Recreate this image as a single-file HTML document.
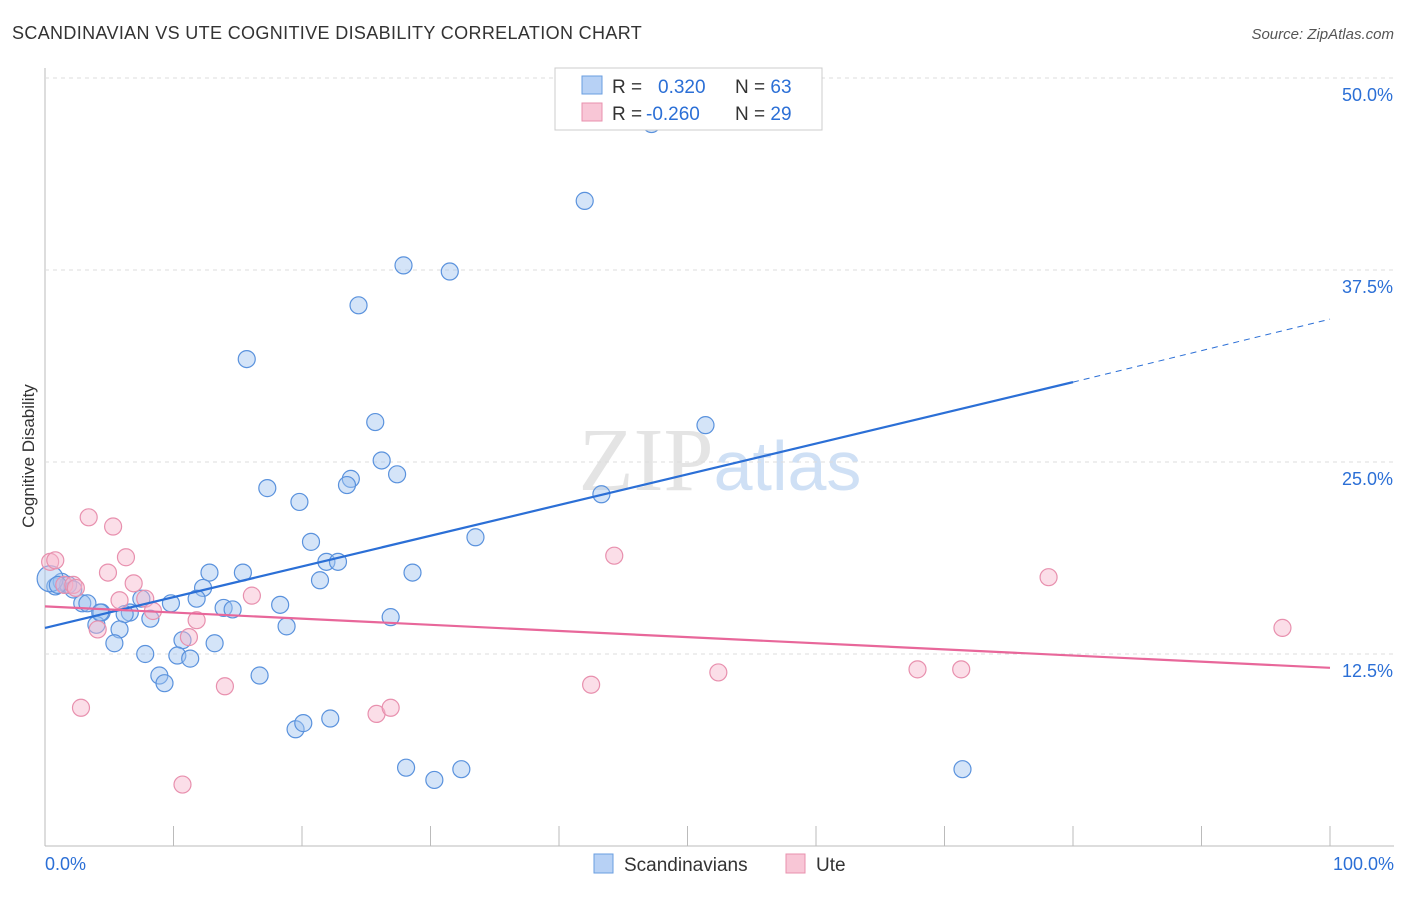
<!DOCTYPE html>
<html><head><meta charset="utf-8"><style>
body{margin:0;background:#fff;font-family:"Liberation Sans",sans-serif}
</style></head><body>
<svg width="1406" height="892" id="c" font-family="Liberation Sans, sans-serif">
<text x="12" y="39" font-size="18" fill="#333" letter-spacing="0.35">SCANDINAVIAN VS UTE COGNITIVE DISABILITY CORRELATION CHART</text>
<text x="1394" y="39" font-size="15" fill="#555" text-anchor="end" font-style="italic">Source: ZipAtlas.com</text>
<text x="720" y="490" font-size="90" fill="#e4e4e4" text-anchor="middle" font-family="Liberation Serif, serif">ZIP<tspan fill="#cfe0f5" font-family="Liberation Sans, sans-serif" font-size="70">atlas</tspan></text>
<text x="34" y="456" font-size="17" fill="#333" text-anchor="middle" transform="rotate(-90 34 456)">Cognitive Disability</text>
<g id="grid"></g><g id="marks"></g>
<g>
<rect x="555" y="68" width="267" height="62" fill="#fff" stroke="#ccc"/>
<rect x="582" y="76" width="20" height="18" fill="#b7d1f5" stroke="#6a9ee0"/>
<rect x="582" y="103" width="20" height="18" fill="#f8c6d6" stroke="#e890ae"/>
<text x="612" y="93" font-size="19" fill="#333">R = <tspan fill="#2b6fd6" x="658">0.320</tspan><tspan x="735">N = </tspan><tspan fill="#2b6fd6">63</tspan></text>
<text x="612" y="120" font-size="19" fill="#333">R = <tspan fill="#2b6fd6" x="646">-0.260</tspan><tspan x="735">N = </tspan><tspan fill="#2b6fd6">29</tspan></text>
</g>
<g>
<rect x="594" y="854" width="19" height="19" fill="#b7d1f5" stroke="#6a9ee0"/>
<text x="624" y="871" font-size="19" fill="#333">Scandinavians</text>
<rect x="786" y="854" width="19" height="19" fill="#f8c6d6" stroke="#e890ae"/>
<text x="816" y="871" font-size="19" fill="#333">Ute</text>
</g>
<text x="45" y="870" font-size="18" fill="#2b6fd6">0.0%</text>
<text x="1394" y="870" font-size="18" fill="#2b6fd6" text-anchor="end">100.0%</text>
</svg>
<script>
const yTicks=[12.5,25,37.5,50];
const blueX=[47.2,42.0,27.9,31.5,24.4,15.7,25.7,51.4,26.2,23.8,23.5,27.4,17.3,19.8,43.3,33.5,20.7,21.9,22.8,15.4,12.8,21.4,28.6,12.3,11.8,7.5,9.8,18.3,13.9,14.6,2.9,3.3,4.4,6.6,6.2,8.2,26.9,18.8,4.0,5.8,10.7,13.2,5.4,7.8,10.3,11.3,8.9,16.7,9.3,19.5,20.1,22.2,28.1,30.3,32.4,71.4,0.8,1.3,1.8,2.2,0.4,4.3,1.0];
const blueY=[47.0,42.0,37.8,37.4,35.2,31.7,27.6,27.4,25.1,23.9,23.5,24.2,23.3,22.4,22.9,20.1,19.8,18.5,18.5,17.8,17.8,17.3,17.8,16.8,16.1,16.1,15.8,15.7,15.5,15.4,15.8,15.8,15.2,15.2,15.1,14.8,14.9,14.3,14.4,14.1,13.4,13.2,13.2,12.5,12.4,12.2,11.1,11.1,10.6,7.6,8.0,8.3,5.1,4.3,5.0,5.0,16.9,17.2,17.0,16.7,17.4,15.2,17.0];
const pinkX=[0.4,0.8,3.4,5.3,6.3,4.9,6.9,7.8,5.8,8.4,1.5,2.2,2.4,16.1,11.8,11.2,4.1,44.3,78.1,96.3,14.0,42.5,52.4,67.9,71.3,25.8,26.9,2.8,10.7];
const pinkY=[18.5,18.6,21.4,20.8,18.8,17.8,17.1,16.1,16.0,15.3,17.0,17.0,16.8,16.3,14.7,13.6,14.1,18.9,17.5,14.2,10.4,10.5,11.3,11.5,11.5,8.6,9.0,9.0,4.0];
const blueLine=[[0,14.2],[80,30.2],[100,34.3]];
const pinkLine=[[0,15.6],[100,11.6]];
const X=v=>45+v/100*1285, Y=v=>846-v/50*768;
const NS='http://www.w3.org/2000/svg';
const grid=document.getElementById('grid'), marks=document.getElementById('marks');
function mk(t,a,p){const e=document.createElementNS(NS,t);for(const k in a)e.setAttribute(k,a[k]);p.appendChild(e);return e;}
const ax=mk('line',{x1:45,y1:68,x2:45,y2:846,stroke:'#bbb'},grid);


const bx=mk('line',{x1:45,y1:846,x2:1394,y2:846,stroke:'#bbb'},grid);


for(let i=0;i<=10;i++){const t=mk('line',{x1:X(i*10),x2:X(i*10),y1:826,y2:846,stroke:'#bbb'},grid);

}
yTicks.forEach(v=>{const g=mk('line',{x1:45,x2:1394,y1:Y(v),y2:Y(v),stroke:'#ddd','stroke-dasharray':'4,4'},grid);


const t=mk('text',{x:1393,y:Y(v)+23,'font-size':18,fill:'#2b6fd6','text-anchor':'end'},grid);t.textContent=v.toFixed(1)+'%';

});
blueX.forEach((x,i)=>{const c=mk('circle',{cx:X(x),cy:Y(blueY[i]),r:(i==blueX.length-3?13:8.5),fill:'rgba(160,196,240,0.45)',stroke:'#5a92dd','stroke-width':1.2},marks);

});
pinkX.forEach((x,i)=>{const c=mk('circle',{cx:X(x),cy:Y(pinkY[i]),r:8.5,fill:'rgba(246,182,204,0.45)',stroke:'#e890ae','stroke-width':1.2},marks);

});
const b1=mk('line',{x1:X(blueLine[0][0]),y1:Y(blueLine[0][1]),x2:X(blueLine[1][0]),y2:Y(blueLine[1][1]),stroke:'#2b6fd6','stroke-width':2.2},marks);


const b2=mk('line',{x1:X(blueLine[1][0]),y1:Y(blueLine[1][1]),x2:X(blueLine[2][0]),y2:Y(blueLine[2][1]),stroke:'#2b6fd6','stroke-width':1,'stroke-dasharray':'6,5'},marks);


const p1=mk('line',{x1:X(pinkLine[0][0]),y1:Y(pinkLine[0][1]),x2:X(pinkLine[1][0]),y2:Y(pinkLine[1][1]),stroke:'#e8679a','stroke-width':2.2},marks);


</script>
</body></html>
